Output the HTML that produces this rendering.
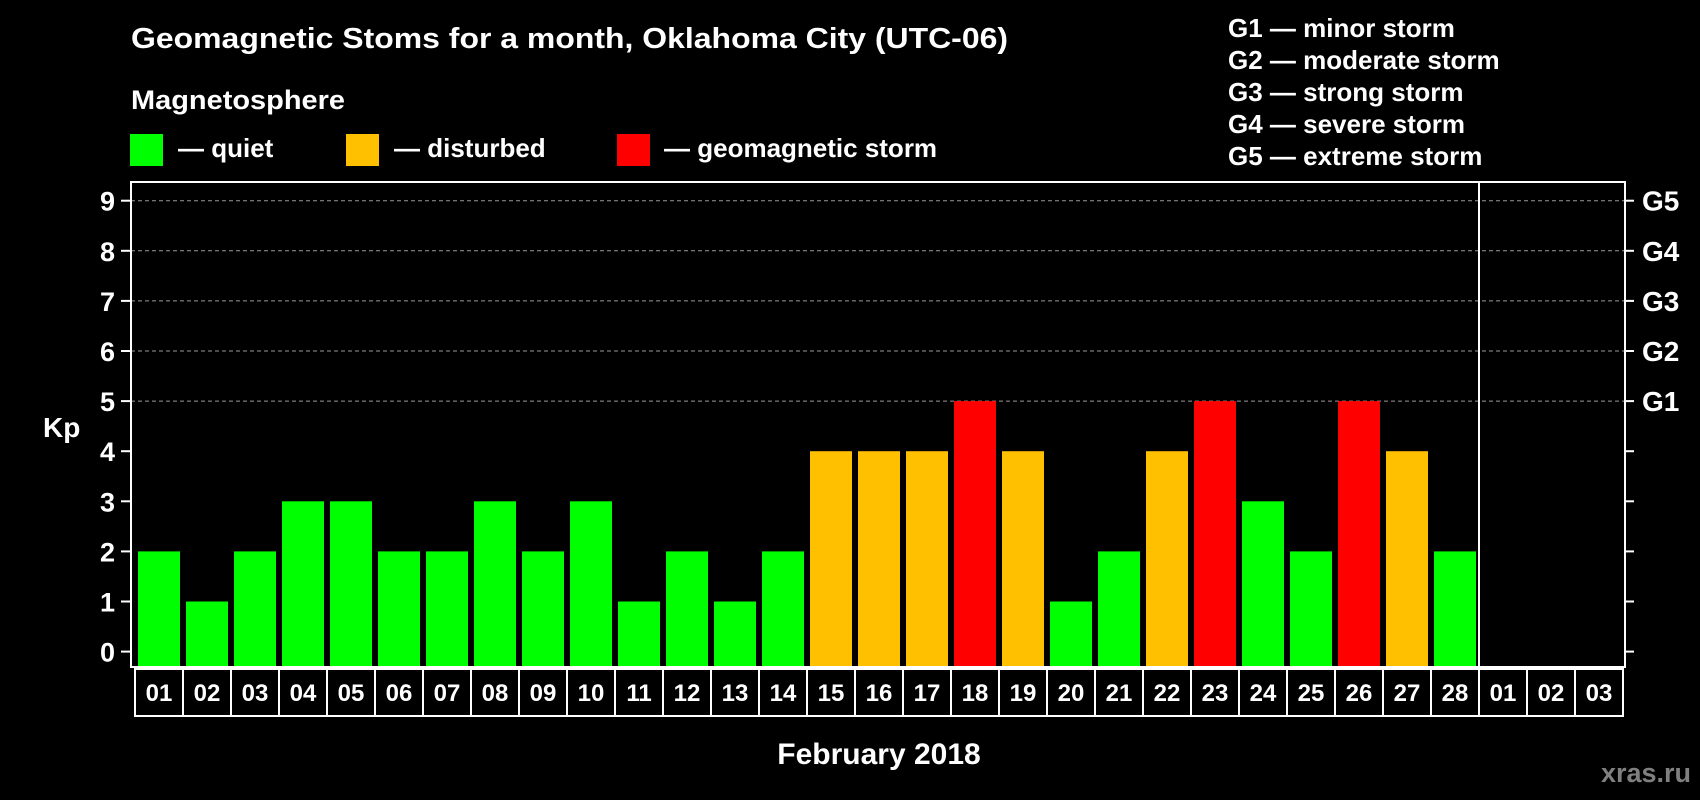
<!DOCTYPE html>
<html><head><meta charset="utf-8"><style>
html,body{margin:0;padding:0;background:#000;width:1700px;height:800px;overflow:hidden}
svg{display:block;font-family:"Liberation Sans",Arial,sans-serif;font-weight:bold}
</style></head><body>
<svg id="chart" width="1700" height="800" viewBox="0 0 1700 800">
<text x="131" y="48" fill="#fff" font-size="29" textLength="877" lengthAdjust="spacingAndGlyphs">Geomagnetic Stoms for a month, Oklahoma City (UTC-06)</text>
<text x="131" y="109" fill="#fff" font-size="27" textLength="214" lengthAdjust="spacingAndGlyphs">Magnetosphere</text>
<g><rect x="130" y="134" width="33" height="32" fill="#00ff00"/><text x="178" y="157" fill="#fff" font-size="26">— quiet</text></g>
<g><rect x="346" y="134" width="33" height="32" fill="#ffc000"/><text x="394" y="157" fill="#fff" font-size="26">— disturbed</text></g>
<g><rect x="617" y="134" width="33" height="32" fill="#ff0000"/><text x="664" y="157" fill="#fff" font-size="26">— geomagnetic storm</text></g>
<g fill="#fff" font-size="26">
<text x="1228" y="37">G1 — minor storm</text>
<text x="1228" y="69">G2 — moderate storm</text>
<text x="1228" y="101">G3 — strong storm</text>
<text x="1228" y="133">G4 — severe storm</text>
<text x="1228" y="165">G5 — extreme storm</text>
</g>
<text x="43" y="437" fill="#fff" font-size="28">Kp</text>
<text x="879" y="764" fill="#fff" font-size="30" text-anchor="middle">February 2018</text>
<text x="1691" y="782" fill="#808080" font-size="27" text-anchor="end">xras.ru</text>
<g id="grid"></g><g id="bars"></g><g id="axes"></g>
</svg>
<script>
const days=["01","02","03","04","05","06","07","08","09","10","11","12","13","14","15","16","17","18","19","20","21","22","23","24","25","26","27","28","01","02","03"];
const kp=[2,1,2,3,3,2,2,3,2,3,1,2,1,2,4,4,4,5,4,1,2,4,5,3,2,5,4,2];
const yTicks=[0,1,2,3,4,5,6,7,8,9];
const gLabels=["G1","G2","G3","G4","G5"];
const NS="http://www.w3.org/2000/svg";
const L=131,R=1625,T=182,B=667;
function y(v){return 651.6-50.1*v;}
function xb(i){return 135+48*i;}
function mk(t,a,p){const e=document.createElementNS(NS,t);for(const k in a)e.setAttribute(k,a[k]);p.appendChild(e);return e;}
const grid=document.getElementById('grid'),bars=document.getElementById('bars'),axes=document.getElementById('axes');
yTicks.forEach(v=>{
 if(v>=5){const g=mk('line',{x1:L,x2:R,y1:y(v),y2:y(v),stroke:'#999','stroke-dasharray':'4,3','stroke-width':1},grid);
  
  }
 const t1=mk('line',{x1:121,x2:L,y1:y(v),y2:y(v),stroke:'#fff','stroke-width':2},axes);
 
 
 mk('line',{x1:R,x2:1634,y1:y(v),y2:y(v),stroke:'#fff','stroke-width':2},axes);
 const tl=mk('text',{x:115,y:y(v)+10,fill:'#fff','font-size':27,'text-anchor':'end'},axes);tl.textContent=v;
 
 
});
gLabels.forEach((g,i)=>{const t=mk('text',{x:1642,y:y(5+i)+10,fill:'#fff','font-size':28},axes);t.textContent=g;
 
 });
kp.forEach((v,i)=>{const c=v>=5?'#ff0000':v>=4?'#ffc000':'#00ff00';
 const r=mk('rect',{x:xb(i)+3,y:y(v),width:42,height:B-y(v),fill:c},bars);
 
 });
const fr=mk('rect',{x:L,y:T,width:R-L,height:B-T,fill:'none',stroke:'#fff','stroke-width':2},axes);


const sep=mk('line',{x1:1479,x2:1479,y1:T,y2:B,stroke:'#fff','stroke-width':2},axes);


days.forEach((d,i)=>{const c=mk('rect',{x:xb(i),y:669,width:48,height:47,fill:'none',stroke:'#fff','stroke-width':2},axes);
 
 
 const t=mk('text',{x:xb(i)+24,y:701,fill:'#fff','font-size':24,'text-anchor':'middle'},axes);t.textContent=d;
 
 });
</script>
</body></html>
